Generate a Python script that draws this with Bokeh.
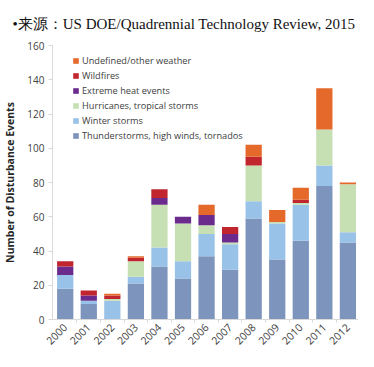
from bokeh.plotting import figure
from bokeh.models import FixedTicker, Range1d, Legend
from bokeh.embed import file_html
from bokeh.resources import INLINE

years = [2000, 2001, 2002, 2003, 2004, 2005, 2006, 2007, 2008, 2009, 2010, 2011, 2012]
thunderstorms = [18, 9, 0, 21, 31, 24, 37, 29, 59, 35, 46, 78, 45]
winter_storms = [8, 2, 11, 4, 11, 10, 13, 15, 10, 21, 21, 12, 6]
hurricanes = [0, 0, 1, 9, 25, 22, 5, 1, 21, 1, 1, 21, 28]
extreme_heat = [5, 3, 0, 0, 4, 4, 6, 5, 0, 0, 0, 0, 0]
wildfires = [3, 3, 2, 2, 5, 0, 0, 4, 5, 0, 2, 0, 0]
undefined = [0, 0, 1, 1, 0, 0, 6, 0, 7, 7, 7, 24, 1]

series = ["thunder", "winter", "hurr", "heat", "wild", "undef"]
labels = ["Thunderstorms, high winds, tornados", "Winter storms", "Hurricanes, tropical storms",
          "Extreme heat events", "Wildfires", "Undefined/other weather"]
colors = ["#7d94bc", "#98c2e8", "#c6e0b3", "#6a2b8d", "#c1262f", "#e4692a"]
y_ticks = [0, 20, 40, 60, 80, 100, 120, 140, 160]

data = dict(x=years, thunder=thunderstorms, winter=winter_storms, hurr=hurricanes,
            heat=extreme_heat, wild=wildfires, undef=undefined)

p = figure(width=358, height=351, output_backend="svg", toolbar_location=None,
           x_range=Range1d(1999.46, 2012.45), y_range=Range1d(0, 160),
           min_border_left=44, min_border_right=0, min_border_bottom=0, min_border_top=0)
p.title.text = "\u2022\u6765\u6e90\uff1aUS DOE/Quadrennial Technology Review, 2015"
p.title.text_font = "Liberation Serif"
p.title.text_font_size = "15px"
p.title.text_font_style = "normal"
p.title.text_color = "#111111"
p.title.offset = -40
p.title.standoff = 27

renderers = p.vbar_stack(series, x="x", width=0.69, source=data, color=colors,
                         line_color=None)

legend = Legend(items=[(labels[i], [renderers[i]]) for i in reversed(range(6))],
                location=(20, 176), orientation="vertical")
legend.padding = 0
legend.margin = 0
legend.spacing = 0
legend.glyph_width = 7
legend.glyph_height = 7
legend.label_height = 15
legend.label_standoff = 3
legend.label_text_font = "Open Sans"
legend.label_text_font_size = "9.2px"
legend.label_text_color = "#404040"
legend.border_line_color = None
legend.background_fill_alpha = 0
p.add_layout(legend)

p.xgrid.visible = False
p.ygrid.visible = False
p.outline_line_color = None

p.xaxis.ticker = FixedTicker(ticks=years, minor_ticks=[y + 0.5 for y in years[:-1]])
p.xaxis.major_tick_line_color = None
p.xaxis.major_tick_out = 0
p.xaxis.major_tick_in = 0
p.xaxis.minor_tick_line_color = "#d9d9d9"
p.xaxis.minor_tick_out = 3
p.xaxis.minor_tick_in = 0
p.xaxis.axis_line_color = "#d9d9d9"
p.xaxis.major_label_orientation = 0.785
p.xaxis.major_label_text_font = "Open Sans"
p.xaxis.major_label_text_font_size = "10.5px"
p.xaxis.major_label_text_line_height = 1.0
p.xaxis.major_label_text_color = "#404040"
p.xaxis.major_label_standoff = 3

p.yaxis.ticker = FixedTicker(ticks=y_ticks)
p.yaxis.minor_tick_line_color = None
p.yaxis.major_tick_line_color = "#d9d9d9"
p.yaxis.major_tick_out = 4
p.yaxis.major_tick_in = 0
p.yaxis.axis_line_color = "#d9d9d9"
p.yaxis.major_label_text_font = "Open Sans"
p.yaxis.major_label_text_font_size = "10px"
p.yaxis.major_label_text_color = "#404040"
p.yaxis.major_label_standoff = 4
p.yaxis.axis_label = "Number of Disturbance Events"
p.yaxis.axis_label_text_font = "Open Sans"
p.yaxis.axis_label_text_font_style = "bold"
p.yaxis.axis_label_text_font_size = "10.5px"
p.yaxis.axis_label_text_color = "#262626"
p.yaxis.axis_label_standoff = 7

open("out.html", "w").write(file_html(p, INLINE))
